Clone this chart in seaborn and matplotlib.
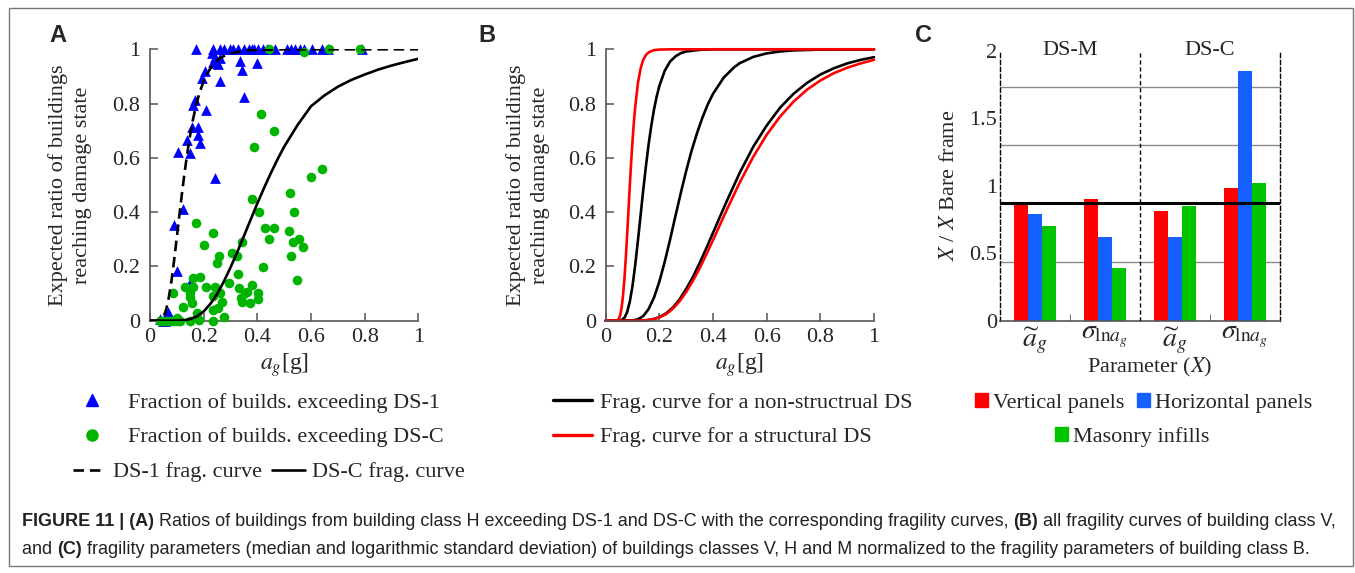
import matplotlib
matplotlib.use("Agg")
import numpy as np
import pandas as pd
import matplotlib.pyplot as plt
from matplotlib.lines import Line2D
from matplotlib.patches import Patch, Rectangle
import seaborn as sns

# ---------------- panel A: building class H ----------------
ds1_pga = [0.17, 0.236, 0.261, 0.276, 0.298, 0.311, 0.329, 0.350, 0.370, 0.379, 0.388, 0.404,
           0.422, 0.435, 0.466, 0.512, 0.524, 0.540, 0.559, 0.574, 0.602, 0.640, 0.665, 0.789,
           0.230, 0.242, 0.249, 0.262, 0.236, 0.255, 0.335, 0.342, 0.398, 0.350,
           0.205, 0.193, 0.261, 0.168, 0.161, 0.207, 0.155, 0.180, 0.180, 0.186, 0.137,
           0.149, 0.106, 0.242, 0.124, 0.091, 0.099, 0.149, 0.068, 0.037, 0.047, 0.055]
ds1_frac = [1.0, 1.0, 1.0, 1.0, 1.0, 1.0, 1.0, 1.0, 1.0, 1.0, 1.0, 1.0,
            1.0, 1.0, 1.0, 1.0, 1.0, 1.0, 1.0, 1.0, 1.0, 1.0, 1.0, 1.0,
            0.985, 0.973, 0.950, 0.967, 0.955, 0.945, 0.958, 0.924, 0.949, 0.826,
            0.921, 0.893, 0.885, 0.813, 0.795, 0.777, 0.715, 0.715, 0.684, 0.654, 0.666,
            0.617, 0.623, 0.526, 0.411, 0.353, 0.184, 0.138, 0.033, 0.006, 0.0, 0.0]

dsc_pga = [0.443, 0.574, 0.667, 0.783, 0.412, 0.463, 0.388, 0.640, 0.600, 0.522, 0.379, 0.538,
           0.407, 0.170, 0.429, 0.463, 0.517, 0.236, 0.445, 0.555, 0.534, 0.344, 0.571, 0.201,
           0.304, 0.258, 0.325, 0.524, 0.251, 0.422, 0.329, 0.161, 0.186, 0.549, 0.296, 0.130,
           0.161, 0.207, 0.242, 0.332, 0.381, 0.360, 0.087, 0.149, 0.261, 0.354, 0.404, 0.149,
           0.236, 0.342, 0.373, 0.401, 0.267, 0.155, 0.122, 0.338, 0.255, 0.236, 0.174, 0.276,
           0.037, 0.047, 0.062, 0.075, 0.087, 0.099, 0.113, 0.099, 0.149, 0.184, 0.236]
dsc_frac = [1.0, 0.991, 1.0, 1.0, 0.760, 0.700, 0.641, 0.559, 0.531, 0.472, 0.448, 0.400,
            0.400, 0.361, 0.340, 0.340, 0.332, 0.322, 0.301, 0.301, 0.291, 0.289, 0.270, 0.279,
            0.251, 0.240, 0.238, 0.240, 0.211, 0.199, 0.171, 0.158, 0.160, 0.150, 0.140, 0.125,
            0.123, 0.123, 0.123, 0.119, 0.132, 0.107, 0.101, 0.103, 0.101, 0.103, 0.101, 0.088,
            0.091, 0.070, 0.064, 0.079, 0.070, 0.064, 0.052, 0.082, 0.045, 0.039, 0.027, 0.012,
            0.0, 0.0, 0.0, 0.0, 0.0, 0.0, 0.0, 0.009, 0.0, 0.002, 0.0]

# fragility curves, values
ds1_curve_pga = [0.0, 0.03, 0.04, 0.05, 0.06, 0.07, 0.08, 0.09, 0.10, 0.11, 0.12, 0.13, 0.14,
                 0.15, 0.16, 0.17, 0.18, 0.19, 0.20, 0.22, 0.24, 0.26, 0.28, 0.30, 0.35, 0.40, 0.50, 1.0]
ds1_curve_p = [0.0, 0.0003, 0.003, 0.014, 0.040, 0.085, 0.147, 0.223, 0.307, 0.393, 0.476, 0.554, 0.624,
               0.686, 0.740, 0.785, 0.824, 0.855, 0.883, 0.922, 0.948, 0.966, 0.978, 0.985, 0.995, 0.998, 1.0, 1.0]
dsc_curve_pga = [0.0, 0.05, 0.10, 0.125, 0.15, 0.175, 0.20, 0.225, 0.25, 0.275, 0.30, 0.325, 0.35,
                 0.375, 0.40, 0.425, 0.45, 0.475, 0.50, 0.55, 0.60, 0.65, 0.70, 0.75, 0.80, 0.85,
                 0.90, 0.95, 1.0]
dsc_curve_p = [0.0, 0.0, 0.0003, 0.0016, 0.006, 0.016, 0.034, 0.062, 0.098, 0.144, 0.196, 0.252, 0.312,
               0.372, 0.432, 0.489, 0.543, 0.594, 0.641, 0.721, 0.790, 0.830, 0.862, 0.887, 0.907, 0.925,
               0.940, 0.953, 0.965]

# ---------------- panel B: building class V ----------------
str1_pga = [0.0, 0.04, 0.045, 0.05, 0.055, 0.06, 0.065, 0.07, 0.075, 0.08, 0.085, 0.09, 0.095,
            0.10, 0.105, 0.11, 0.12, 0.13, 0.14, 0.15, 0.16, 0.18, 0.20, 0.25, 1.0]
str1_p = [0.0, 0.0006, 0.003, 0.009, 0.024, 0.053, 0.097, 0.157, 0.233, 0.319, 0.409, 0.5, 0.586,
          0.663, 0.731, 0.788, 0.875, 0.929, 0.962, 0.979, 0.989, 0.997, 0.999, 1.0, 1.0]
ns1_pga = [0.0, 0.05, 0.06, 0.07, 0.08, 0.09, 0.10, 0.11, 0.12, 0.13, 0.14, 0.15, 0.16, 0.17,
           0.18, 0.19, 0.20, 0.22, 0.24, 0.26, 0.28, 0.30, 0.35, 0.40, 0.50, 1.0]
ns1_p = [0.0, 0.0004, 0.003, 0.011, 0.032, 0.071, 0.129, 0.205, 0.294, 0.388, 0.482, 0.570, 0.650,
         0.719, 0.778, 0.826, 0.865, 0.921, 0.955, 0.974, 0.986, 0.992, 0.998, 1.0, 1.0, 1.0]
ns2_pga = [0.0, 0.10, 0.12, 0.14, 0.16, 0.18, 0.20, 0.22, 0.24, 0.26, 0.28, 0.30, 0.32, 0.34,
           0.36, 0.38, 0.40, 0.44, 0.48, 0.50, 0.55, 0.60, 0.65, 0.70, 0.80, 0.90, 1.0]
ns2_p = [0.0, 0.001, 0.005, 0.017, 0.043, 0.085, 0.144, 0.217, 0.299, 0.386, 0.471, 0.552, 0.626,
         0.690, 0.747, 0.796, 0.836, 0.896, 0.935, 0.949, 0.972, 0.985, 0.992, 0.996, 0.999, 1.0, 1.0]
ns3_pga = [0.0, 0.10, 0.15, 0.175, 0.20, 0.225, 0.25, 0.275, 0.30, 0.325, 0.35, 0.375, 0.40, 0.45,
           0.50, 0.55, 0.60, 0.65, 0.70, 0.75, 0.80, 0.85, 0.90, 0.95, 1.0]
ns3_p = [0.0, 0.0, 0.0015, 0.005, 0.013, 0.027, 0.048, 0.078, 0.117, 0.161, 0.212, 0.267, 0.324, 0.438,
         0.546, 0.641, 0.719, 0.785, 0.836, 0.876, 0.907, 0.930, 0.948, 0.961, 0.971]
str2_pga = [0.0, 0.10, 0.15, 0.175, 0.20, 0.225, 0.25, 0.275, 0.30, 0.325, 0.35, 0.375, 0.40, 0.45,
            0.50, 0.55, 0.60, 0.65, 0.70, 0.75, 0.80, 0.85, 0.90, 0.95, 1.0]
str2_p = [0.0, 0.0, 0.0014, 0.005, 0.012, 0.024, 0.044, 0.071, 0.106, 0.147, 0.193, 0.244, 0.297, 0.406,
          0.510, 0.604, 0.685, 0.752, 0.807, 0.851, 0.885, 0.912, 0.932, 0.948, 0.961]

# ---------------- panel C: normalised fragility parameters ----------------
params = ["DS-M median", "DS-M sigma", "DS-C median", "DS-C sigma"]
param_labels = [r"$\widetilde{a}_g$", r"$\sigma_{\mathrm{ln}a_g}$",
                r"$\widetilde{a}_g$", r"$\sigma_{\mathrm{ln}a_g}$"]
vertical_panels = [0.87, 0.90, 0.81, 0.98]
horizontal_panels = [0.79, 0.62, 0.62, 1.85]
masonry_infills = [0.70, 0.39, 0.85, 1.02]
grid_levels = [0.432, 1.301, 1.733]
bare_frame_level = 0.869

W, H = 1355, 573
RED, BLUE, GREEN = "#ff0000", "#0000ff", "#00b400"
C_BLUE, C_GREEN = "#1460ff", "#00c400"
LEG_FS = 16

sns.set_style("ticks")
plt.rcParams["font.family"] = ["Liberation Serif", "DejaVu Serif"]
plt.rcParams["mathtext.fontset"] = "stix"
plt.rcParams["axes.edgecolor"] = "#555555"

fig = plt.figure(figsize=(W / 100, H / 100), dpi=100)


def px_axes(left, top, right, bottom):
    return fig.add_axes([left / W, 1 - bottom / H, (right - left) / W, (bottom - top) / H])


def style_frag_axes(ax):
    ax.set_xlim(0, 1)
    ax.set_ylim(0, 1)
    sns.despine(ax=ax)
    ticks = [0, 0.2, 0.4, 0.6, 0.8, 1]
    labels = ["0", "0.2", "0.4", "0.6", "0.8", "1"]
    ax.set_xticks(ticks, labels)
    ax.set_yticks(ticks, labels)
    ax.tick_params(direction="in", length=6, width=1.1, color="#555555", labelsize=16)
    ax.tick_params(axis="y", pad=7)
    ax.tick_params(axis="x", pad=5)
    for s in ["left", "bottom"]:
        ax.spines[s].set_linewidth(1.2)
    ax.set_xlabel(r"$a_g$[g]", fontsize=17, labelpad=3)
    ax.set_ylabel("Expected ratio of buildings\nreaching damage state", fontsize=16,
                  va="center", linespacing=1.35)


# ---- A ----
axA = px_axes(150, 49.3, 418.3, 320.7)
sns.scatterplot(x=ds1_pga, y=ds1_frac, ax=axA, marker="^", color=BLUE, s=60,
                linewidth=0, clip_on=False, zorder=4)
sns.scatterplot(x=dsc_pga, y=dsc_frac, ax=axA, marker="o", color=GREEN, s=48,
                linewidth=0, clip_on=False, zorder=5)
sns.lineplot(x=ds1_curve_pga, y=ds1_curve_p, ax=axA, color="black", lw=1.9,
             linestyle=(0, (4, 2.2)), errorbar=None, zorder=6)
sns.lineplot(x=dsc_curve_pga, y=dsc_curve_p, ax=axA, color="black", lw=1.9, errorbar=None, zorder=6)
style_frag_axes(axA)
axA.yaxis.set_label_coords((70 - 150) / 268.3, 0.5)

# ---- B ----
axB = px_axes(605.7, 49.3, 874, 320.7)
for xs, ys, col in [(ns1_pga, ns1_p, "black"), (ns2_pga, ns2_p, "black"), (ns3_pga, ns3_p, "black"),
                    (str1_pga, str1_p, RED), (str2_pga, str2_p, RED)]:
    sns.lineplot(x=xs, y=ys, ax=axB, color=col, lw=1.9, errorbar=None, clip_on=False)
style_frag_axes(axB)
axB.yaxis.set_label_coords((528 - 605.7) / 268.3, 0.5)

# ---- C ----
axC = px_axes(1000, 50.7, 1280, 320.7)
df_c = pd.DataFrame({
    "param": params * 3,
    "ratio": vertical_panels + horizontal_panels + masonry_infills,
    "infill": ["Vertical panels"] * 4 + ["Horizontal panels"] * 4 + ["Masonry infills"] * 4,
})
sns.barplot(df_c, x="param", y="ratio", hue="infill", palette=[RED, C_BLUE, C_GREEN],
            width=0.6, saturation=1, errorbar=None, legend=False, ax=axC, linewidth=0, zorder=2)
for g in grid_levels:
    axC.axhline(g, color="#8a8a8a", lw=1.0, zorder=1)
axC.axhline(bare_frame_level, color="black", lw=2.2, zorder=3)
axC.axvline(1.5, color="black", lw=1.0, linestyle=(0, (3, 2)), zorder=3)
axC.set_xlim(-0.5, 3.5)
axC.set_ylim(0, 2)
axC.spines["top"].set_visible(False)
for s in ["left", "right"]:
    axC.spines[s].set_linestyle((0, (3, 2)))
    axC.spines[s].set_color("black")
    axC.spines[s].set_linewidth(1.0)
axC.spines["bottom"].set_linewidth(1.2)
axC.set_yticks([0, 0.5, 1, 1.5, 2], ["0", "0.5", "1", "1.5", "2"])
axC.set_xticks(range(4), param_labels)
axC.set_xticks([0.5, 2.5], minor=True)
axC.tick_params(axis="y", length=0, pad=2, labelsize=16)
axC.tick_params(axis="x", which="major", length=0, pad=3, labelsize=20)
axC.tick_params(axis="x", which="minor", direction="in", length=5, color="#555555")
axC.text(0.5, 2.0, "DS-M", ha="center", va="center", fontsize=16)
axC.text(2.5, 2.0, "DS-C", ha="center", va="center", fontsize=16)
axC.set_xlabel(r"Parameter ($X$)", fontsize=16, va="center")
axC.set_ylabel(r"$X$ / $X$ Bare frame", fontsize=16, va="center")
axC.yaxis.set_label_coords((950 - 1000) / 280, 0.5)
axC.xaxis.set_label_coords(0.535, (320.7 - 367) / 270)


# ---- legends, one entry each so they sit where the reference has them ----
def legend_item(handle, label, x, y, hl, pad, **kw):
    fig.legend([handle], [label], loc="center left", bbox_to_anchor=(x / W, 1 - y / H),
               frameon=False, borderpad=0, borderaxespad=0, handlelength=hl,
               handletextpad=pad, fontsize=LEG_FS, **kw)


tri = Line2D([], [], marker="^", ls="none", color=BLUE, markersize=8.5)
dot = Line2D([], [], marker="o", ls="none", color=GREEN, markersize=8)
legend_item(tri, "Fraction of builds. exceeding DS-1", 76.5, 403, 1.4, 0.92)
legend_item(dot, "Fraction of builds. exceeding DS-C", 76.5, 437, 1.4, 0.92)
legend_item(Line2D([], [], color="black", lw=1.9, linestyle=(0, (4, 2.2))), "DS-1 frag. curve",
            73, 472, 1.44, 0.36)
legend_item(Line2D([], [], color="black", lw=1.9), "DS-C frag. curve", 272, 472, 1.49, 0.32)
legend_item(Line2D([], [], color="black", lw=2.4), "Frag. curve for a non-structrual DS",
            553, 403, 1.76, 0.36)
legend_item(Line2D([], [], color=RED, lw=2.4), "Frag. curve for a structural DS", 553, 437, 1.76, 0.36)
legend_item(Patch(color=RED), "Vertical panels", 975, 403, 0.585, 0.225, handleheight=0.585)
legend_item(Patch(color=C_BLUE), "Horizontal panels", 1137, 403, 0.585, 0.225, handleheight=0.585)
legend_item(Patch(color=C_GREEN), "Masonry infills", 1055, 437, 0.585, 0.225, handleheight=0.585)

# ---- panel letters ----
for letter, x in [("A", 58), ("B", 487), ("C", 924)]:
    fig.text(x / W, 1 - 36 / H, letter, fontsize=17, fontweight="bold",
             family="Liberation Sans", ha="center", va="center")

# ---- outer frame and caption ----
fig.add_artist(Rectangle((9 / W, 1 - 566 / H), (1353 - 9) / W, (566 - 8) / H,
                         transform=fig.transFigure, fill=False, edgecolor="#777777", lw=1.0))

renderer = fig.canvas.get_renderer()


def caption_line(runs, x, y):
    for txt, bold in runs:
        t = fig.text(x / W, 1 - y / H, txt, fontsize=13, family="Liberation Sans",
                     fontweight="bold" if bold else "normal", color="#222222",
                     ha="left", va="center")
        x += t.get_window_extent(renderer).width


caption_line([("FIGURE 11 | (A)", True),
              (" Ratios of buildings from building class H exceeding DS-1 and DS-C with the "
               "corresponding fragility curves, ", False),
              ("(B)", True), (" all fragility curves of building class V,", False)], 22, 521)
caption_line([("and ", False), ("(C)", True),
              (" fragility parameters (median and logarithmic standard deviation) of buildings "
               "classes V, H and M normalized to the fragility parameters of building class B.", False)],
             22, 549)

fig.savefig("out.png", dpi=100)
